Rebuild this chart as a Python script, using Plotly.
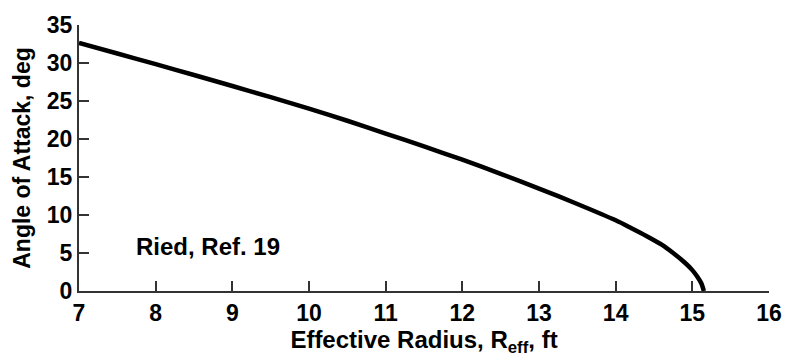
import plotly.graph_objects as go

# Effective radius (ft) vs. angle of attack (deg)
radius_ft = [7.0, 7.5, 8.0, 8.5, 9.0, 9.5, 10.0, 10.5, 11.0, 11.5, 12.0, 12.5,
             13.0, 13.5, 14.0, 14.2, 14.4, 14.6, 14.75, 14.9, 15.0, 15.07, 15.12, 15.15]
angle_deg = [32.65, 31.25, 29.85, 28.42, 26.97, 25.5, 24.0, 22.4, 20.72, 19.02,
             17.28, 15.42, 13.48, 11.45, 9.3, 8.3, 7.25, 6.1, 5.0, 3.75, 2.75, 1.8, 0.95, 0.0]

x_ticks = [7, 8, 9, 10, 11, 12, 13, 14, 15, 16]
y_ticks = [0, 5, 10, 15, 20, 25, 30, 35]

FONT = "Liberation Sans, Arial, Helvetica, sans-serif"
AXIS_COLOR = "#333333"

fig = go.Figure()
fig.add_trace(go.Scatter(
    x=radius_ft, y=angle_deg, mode="lines",
    line=dict(color="black", width=4.5, shape="spline", smoothing=0.8),
    showlegend=False, hoverinfo="skip",
))

fig.add_annotation(
    x=7.72, y=5.9, xref="x", yref="y", xanchor="left", yanchor="middle",
    text="<b>Ried, Ref. 19</b>", showarrow=False,
    font=dict(family=FONT, size=24, color="black"),
)

axis_common = dict(
    showgrid=False, zeroline=False, showline=True, linecolor=AXIS_COLOR,
    linewidth=2, ticks="inside", ticklen=10, tickwidth=2, tickcolor=AXIS_COLOR,
    tickfont=dict(family=FONT, size=23, color="black", weight="bold"),
    mirror=False,
)

fig.update_xaxes(
    range=[7, 16], tickvals=x_ticks, ticktext=[str(v) for v in x_ticks],
    title=dict(text="<b>Effective Radius, R<sub>eff</sub>, ft</b>",
               font=dict(family=FONT, size=24, color="black"), standoff=7),
    **axis_common,
)
fig.update_yaxes(
    range=[0, 35], tickvals=y_ticks, ticktext=[str(v) for v in y_ticks],
    title=dict(text="<b>Angle of Attack, deg</b>",
               font=dict(family=FONT, size=23, color="black"), standoff=10),
    **axis_common,
)

fig.update_layout(
    width=794, height=362,
    margin=dict(l=79, r=19, t=17, b=71),
    plot_bgcolor="white", paper_bgcolor="white",
)

fig.write_html("out.html")
